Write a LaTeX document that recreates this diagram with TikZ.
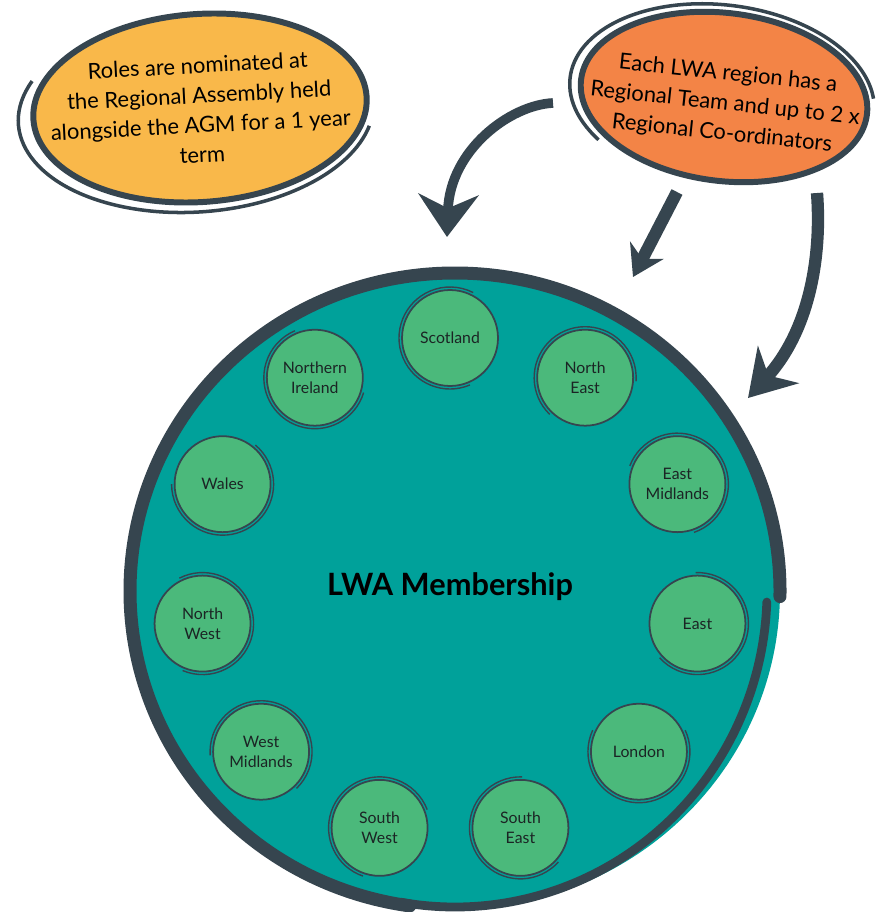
\documentclass[tikz,border=0pt]{standalone}
\usepackage{fontspec}
\setmainfont{Lato}
\usetikzlibrary{arrows.meta,calc}

\definecolor{lwateal}{HTML}{00A19A}
\definecolor{lwagreen}{HTML}{4BB97B}
\definecolor{lwadark}{HTML}{36454F}
\definecolor{lwayellow}{HTML}{F9B84A}
\definecolor{lwaorange}{HTML}{F38446}
\definecolor{lwatext}{HTML}{1B2424}

\tikzset{
  region/.style={circle, fill=lwagreen, draw=lwadark, line width=1pt, minimum size=1.92cm,
    inner sep=0pt, align=center, text=lwatext, font=\fontsize{9}{11.3}\selectfont},
  sketch/.style={draw=lwadark, line width=0.8pt},
  bubbletext/.style={align=center, text=black, font=\fontsize{12.5}{17}\selectfont},
  bigarrow/.style={draw=lwadark, line width=7pt},
}

\begin{document}
\begin{tikzpicture}[x=0.02cm, y=-0.02cm]
  \useasboundingbox (0,0) rectangle (882,912);

  % membership circle
  \fill [lwateal] (455,591) ellipse[x radius=325, y radius=318];
  \draw [lwadark, line width=7.4pt, line cap=round]
    (455,591) ++(1:325 and 318) arc[start angle=1, end angle=-262, x radius=325, y radius=318];
  \draw [lwadark, line width=5pt, line cap=round]
    (455,591) ++(2:312 and 316) arc[start angle=2, end angle=100, x radius=312, y radius=316];
  \node [font=\fontsize{17.5}{20}\selectfont\bfseries] (members) at (450,587) {LWA Membership};

  % regions
  \foreach \l [count=\i] in {Scotland, North\\East, East\\Midlands, East, London, South\\East,
      South\\West, West\\Midlands, North\\West, Wales, Northern\\Ireland}
  \node [region] (region-\i) at ($(450,588)+(-90+32.727*\i-32.727:250)$) {\l};

  \foreach \i in {1,...,11}
  \draw [sketch] (region-\i.center) ++(\i*67:51) arc[start angle=\i*67, end angle=\i*67+230, radius=51];

  % bubbles
  \fill [lwayellow, rotate around={4:(200,108)}] (200,108) ellipse[x radius=167, y radius=94];
  \draw [lwadark, line width=3.4pt, rotate around={4:(200,108)}] (200,108) ellipse[x radius=167, y radius=94];
  \draw [lwadark, line width=2pt, rotate around={4:(196,112)}]
    (196,112) ++(205:178 and 100) arc[start angle=205, end angle=15, x radius=178, y radius=100];
  \node [bubbletext, rotate=3] (roles) at (200,110)
    {Roles are nominated at\\the Regional Assembly held\\alongside the AGM for a 1 year\\term};

  \fill [lwaorange, rotate around={-7:(724,97)}] (724,97) ellipse[x radius=144, y radius=84];
  \draw [lwadark, line width=3.4pt, rotate around={-7:(724,97)}] (724,97) ellipse[x radius=144, y radius=84];
  \draw [lwadark, line width=2pt, rotate around={-7:(722,96)}]
    (722,96) ++(140:153 and 91) arc[start angle=140, end angle=350, x radius=153, y radius=91];
  \node [bubbletext, rotate=-6] (team) at (725,104)
    {Each LWA region has a\\Regional Team and up to 2 x\\Regional Co-ordinators};

  % arrows
  \coordinate (team-w) at (553,103);
  \coordinate (team-s) at (677,192);
  \coordinate (team-se) at (817,193);
  \coordinate (members-n) at (447,237);
  \coordinate (members-ne) at (633,277);
  \coordinate (members-e) at (748,398);

  \draw [bigarrow, line width=5.5pt, -{Stealth[length=0.85cm, width=1.2cm]}]
    (team-w) .. controls (510,105) and (450,150) .. (members-n);
  \draw [bigarrow, -{Stealth[length=0.6cm, width=0.75cm]}] (team-s) -- (members-ne);
  \draw [bigarrow, -{Stealth[length=0.9cm, width=1.1cm]}]
    (team-se) .. controls (822,260) and (808,332) .. (members-e);

\end{tikzpicture}
\end{document}
